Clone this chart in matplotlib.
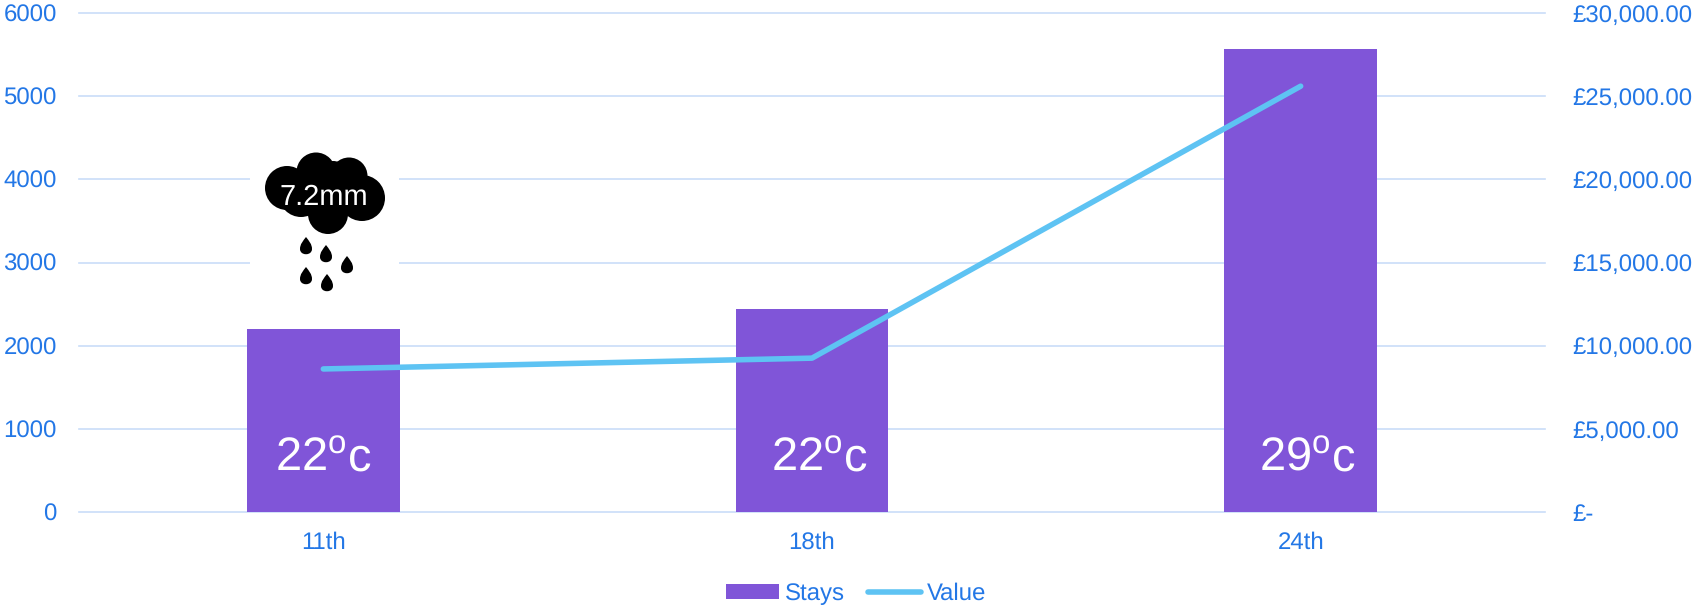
import matplotlib
matplotlib.use('Agg')
import matplotlib.pyplot as plt
from matplotlib.patches import Circle, Rectangle, PathPatch
from matplotlib.path import Path

# Datos
days = ['11th', '18th', '24th']
stays = [2200, 2440, 5570]
value = [8600, 9250, 25600]
temps = ['22', '22', '29']
rain_label = '7.2mm'
left_ticks = [0, 1000, 2000, 3000, 4000, 5000, 6000]
right_ticks = [0, 5000, 10000, 15000, 20000, 25000, 30000]
right_labels = ['£-', '£5,000.00', '£10,000.00', '£15,000.00', '£20,000.00', '£25,000.00', '£30,000.00']

BLUE = '#2377E6'
GRID = '#C9DDF8'
PURPLE = '#8055D8'
LINE = '#5EC3F3'

plt.rcParams['font.family'] = ['Liberation Sans', 'DejaVu Sans']
plt.rcParams['mathtext.fontset'] = 'custom'
plt.rcParams['mathtext.rm'] = 'Liberation Sans'
plt.rcParams['text.hinting'] = 'no_hinting'
plt.rcParams['text.hinting_factor'] = 1

W, H = 1692, 605
fig = plt.figure(figsize=(W / 100, H / 100), dpi=100)
ax = fig.add_axes([79 / W, 1 - 512 / H, 1466 / W, 499 / H])
ax2 = ax.twinx()

x = list(range(len(days)))
bars = ax.bar(x, stays, width=0.313, color=PURPLE, zorder=3, label='Stays')
line, = ax2.plot(x, value, color=LINE, lw=4, solid_capstyle='round', label='Value', zorder=4)

ax.set_xlim(-0.5, 2.5)
ax.set_ylim(0, 6000)
ax2.set_ylim(0, 30000)
ax.set_xticks(x, days)
ax.set_yticks(left_ticks)
ax2.set_yticks(right_ticks, right_labels)

ax.set_axisbelow(True)
ax.grid(axis='y', color=GRID, lw=1.2)
for g in ax.get_ygridlines():
    g.set_clip_on(False)
for a in (ax, ax2):
    for s in a.spines.values():
        s.set_visible(False)
ax.tick_params(axis='x', length=0, pad=14, labelsize=17, labelcolor=BLUE)
ax.tick_params(axis='y', length=0, pad=16, labelsize=17, labelcolor=BLUE)
ax2.tick_params(axis='y', length=0, pad=20, labelsize=17, labelcolor=BLUE)

# Temperaturas dentro de las barras (las dos ultimas van algo a la derecha)
temp_shift = [0, 0.015, 0.013]
for xi, t, dx in zip(x, temps, temp_shift):
    ax.text(xi + dx, 482, t + r'$^{\mathrm{o}}$c', color='white', fontsize=34, ha='center', va='baseline', zorder=5)

# Nube de lluvia, en pixeles de la figura
over = fig.add_axes([0, 0, 1, 1], zorder=10)
over.set_xlim(0, W)
over.set_ylim(H, 0)
over.axis('off')
over.add_patch(Rectangle((250, 140), 149, 180, color='white', lw=0))
for cx, cy, r in [(287, 188, 22), (316, 172, 19.5), (349, 176, 18.5), (362, 198, 23),
                  (328, 214, 20), (320, 192, 24), (345, 195, 20), (301, 195, 22), (333, 178, 17)]:
    over.add_patch(Circle((cx, cy), r, color='black', lw=0))
for cx, cy in [(306, 246), (326, 254), (347, 265), (306, 276), (327, 283)]:
    drop = Path([(cx, cy - 9), (cx + 3, cy - 5), (cx + 6, cy - 2), (cx + 6, cy + 3),
                 (cx + 6, cy + 10), (cx - 6, cy + 10), (cx - 6, cy + 3),
                 (cx - 6, cy - 2), (cx - 3, cy - 5), (cx, cy - 9)],
                [Path.MOVETO] + [Path.CURVE4] * 9)
    over.add_patch(PathPatch(drop, color='black', lw=0))
over.text(324, 205, rain_label, color='white', fontsize=21, ha='center', va='baseline')

fig.legend(handles=[bars, line], labels=['Stays', 'Value'], loc='center', bbox_to_anchor=(856 / W, 1 - 594 / H),
           ncol=2, frameon=False, fontsize=17, labelcolor=BLUE, handlelength=2.25, handleheight=0.6,
           handletextpad=0.22, columnspacing=1.0, borderpad=0)

fig.savefig('out.png', dpi=100)
